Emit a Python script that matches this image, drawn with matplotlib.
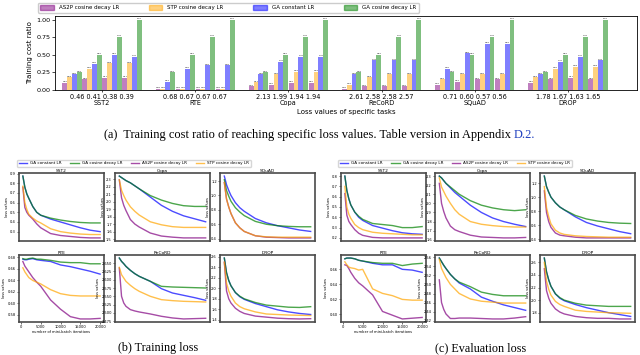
import matplotlib
matplotlib.use("Agg")
import matplotlib.pyplot as plt
from matplotlib.patches import Patch
from matplotlib.lines import Line2D
from matplotlib.ticker import MultipleLocator

# ---- (a) bar chart data ----
tasks = ["SST2", "RTE", "Copa", "ReCoRD", "SQuAD", "DROP"]
loss_levels = [
    ["0.46", "0.41", "0.38", "0.39"],
    ["0.68", "0.67", "0.67", "0.67"],
    ["2.13", "1.99", "1.94", "1.94"],
    ["2.61", "2.58", "2.58", "2.57"],
    ["0.71", "0.60", "0.57", "0.56"],
    ["1.78", "1.67", "1.63", "1.65"],
]
as2p_cost = [0.10, 0.15, 0.17, 0.17, 0.02, 0.02, 0.02, 0.02,
             0.05, 0.07, 0.10, 0.10, 0.02, 0.05, 0.05, 0.05,
             0.07, 0.12, 0.15, 0.15, 0.10, 0.15, 0.17, 0.15]
stp_cost = [0.18, 0.30, 0.38, 0.38, 0.02, 0.02, 0.02, 0.02,
            0.11, 0.22, 0.26, 0.26, 0.07, 0.18, 0.22, 0.22,
            0.15, 0.22, 0.22, 0.22, 0.18, 0.30, 0.33, 0.33]
ga_const_cost = [0.22, 0.37, 0.50, 0.47, 0.12, 0.30, 0.35, 0.35,
                 0.22, 0.40, 0.47, 0.47, 0.22, 0.42, 0.42, 0.42,
                 0.30, 0.52, 0.65, 0.65, 0.22, 0.40, 0.47, 0.42]
ga_cos_cost = [0.25, 0.50, 0.75, 1.00, 0.25, 0.50, 0.75, 1.00,
               0.25, 0.50, 0.75, 1.00, 0.25, 0.50, 0.75, 1.00,
               0.25, 0.50, 0.75, 1.00, 0.25, 0.50, 0.75, 1.00]

# ---- (b)/(c) loss curves ----
iters = [500, 1000, 1500, 2000, 3000, 4000, 5000, 7500, 10000, 12500, 15000, 17500, 20000]

# training loss
sst2_train_ga_const = [0.875, 0.76, 0.69, 0.645, 0.56, 0.50, 0.47, 0.43, 0.40, 0.37, 0.34, 0.315, 0.30]
sst2_train_ga_cos = [0.875, 0.76, 0.69, 0.645, 0.56, 0.50, 0.47, 0.44, 0.42, 0.405, 0.395, 0.39, 0.39]
sst2_train_as2p = [0.76, 0.55, 0.50, 0.47, 0.43, 0.38, 0.34, 0.28, 0.26, 0.25, 0.24, 0.235, 0.235]
sst2_train_stp = [0.77, 0.60, 0.53, 0.48, 0.44, 0.41, 0.39, 0.33, 0.30, 0.285, 0.275, 0.27, 0.27]

copa_train_ga_const = [2.34, 2.32, 2.30, 2.28, 2.25, 2.21, 2.17, 2.06, 1.95, 1.87, 1.81, 1.77, 1.73]
copa_train_ga_cos = [2.34, 2.32, 2.30, 2.28, 2.25, 2.21, 2.17, 2.08, 2.02, 1.975, 1.945, 1.935, 1.935]
copa_train_as2p = [2.29, 2.05, 1.95, 1.88, 1.76, 1.70, 1.66, 1.58, 1.54, 1.525, 1.515, 1.515, 1.515]
copa_train_stp = [2.29, 2.15, 2.08, 2.02, 1.93, 1.87, 1.82, 1.73, 1.69, 1.665, 1.655, 1.655, 1.655]

squad_train_ga_const = [1.27, 1.15, 1.07, 1.00, 0.90, 0.83, 0.78, 0.68, 0.62, 0.58, 0.55, 0.52, 0.50]
squad_train_ga_cos = [1.22, 1.07, 0.99, 0.92, 0.83, 0.77, 0.72, 0.64, 0.60, 0.58, 0.57, 0.565, 0.565]
squad_train_as2p = [1.18, 0.95, 0.84, 0.75, 0.62, 0.55, 0.50, 0.44, 0.42, 0.415, 0.41, 0.41, 0.41]
squad_train_stp = [1.18, 0.95, 0.84, 0.75, 0.62, 0.55, 0.50, 0.44, 0.425, 0.42, 0.42, 0.42, 0.42]

rte_train_ga_const = [0.677, 0.676, 0.676, 0.677, 0.678, 0.676, 0.675, 0.673, 0.667, 0.664, 0.660, 0.656, 0.651]
rte_train_ga_cos = [0.678, 0.677, 0.677, 0.678, 0.679, 0.677, 0.677, 0.675, 0.672, 0.671, 0.671, 0.669, 0.669]
rte_train_as2p = [0.673, 0.665, 0.660, 0.655, 0.645, 0.637, 0.630, 0.606, 0.590, 0.577, 0.573, 0.573, 0.574]
rte_train_stp = [0.662, 0.655, 0.650, 0.645, 0.640, 0.637, 0.634, 0.624, 0.617, 0.614, 0.613, 0.613, 0.613]

record_train_ga_const = [2.665, 2.655, 2.648, 2.640, 2.628, 2.618, 2.610, 2.595, 2.573, 2.560, 2.553, 2.546, 2.538]
record_train_ga_cos = [2.665, 2.655, 2.648, 2.640, 2.628, 2.618, 2.610, 2.595, 2.580, 2.578, 2.577, 2.576, 2.575]
record_train_as2p = [2.635, 2.550, 2.530, 2.520, 2.510, 2.506, 2.503, 2.497, 2.490, 2.485, 2.482, 2.483, 2.484]
record_train_stp = [2.637, 2.615, 2.605, 2.595, 2.583, 2.573, 2.565, 2.550, 2.540, 2.537, 2.535, 2.534, 2.533]

drop_train_ga_const = [2.58, 2.30, 2.15, 2.05, 1.92, 1.84, 1.79, 1.71, 1.65, 1.59, 1.55, 1.52, 1.50]
drop_train_ga_cos = [2.58, 2.30, 2.15, 2.05, 1.92, 1.85, 1.80, 1.73, 1.68, 1.66, 1.64, 1.635, 1.65]
drop_train_as2p = [2.50, 1.95, 1.80, 1.72, 1.62, 1.56, 1.52, 1.47, 1.45, 1.43, 1.42, 1.415, 1.42]
drop_train_stp = [2.50, 2.10, 1.95, 1.85, 1.72, 1.65, 1.61, 1.55, 1.51, 1.50, 1.49, 1.485, 1.48]

# evaluation loss
sst2_eval_ga_const = [0.80, 0.66, 0.58, 0.52, 0.45, 0.40, 0.37, 0.32, 0.295, 0.27, 0.25, 0.24, 0.235]
sst2_eval_ga_cos = [0.80, 0.66, 0.58, 0.52, 0.45, 0.41, 0.38, 0.34, 0.33, 0.32, 0.30, 0.30, 0.31]
sst2_eval_as2p = [0.63, 0.42, 0.36, 0.33, 0.28, 0.245, 0.225, 0.205, 0.20, 0.20, 0.20, 0.20, 0.20]
sst2_eval_stp = [0.70, 0.50, 0.43, 0.39, 0.33, 0.30, 0.28, 0.255, 0.245, 0.24, 0.235, 0.23, 0.23]

copa_eval_ga_const = [2.30, 2.28, 2.25, 2.22, 2.17, 2.12, 2.08, 1.98, 1.90, 1.84, 1.80, 1.77, 1.745]
copa_eval_ga_cos = [2.30, 2.28, 2.25, 2.22, 2.18, 2.14, 2.10, 2.03, 1.98, 1.95, 1.93, 1.92, 1.93]
copa_eval_as2p = [2.22, 2.00, 1.91, 1.84, 1.75, 1.71, 1.69, 1.65, 1.63, 1.625, 1.62, 1.62, 1.625]
copa_eval_stp = [2.28, 2.18, 2.13, 2.08, 2.00, 1.93, 1.88, 1.80, 1.77, 1.755, 1.745, 1.74, 1.74]

squad_eval_ga_const = [1.30, 1.15, 1.07, 1.00, 0.92, 0.86, 0.82, 0.72, 0.64, 0.59, 0.55, 0.51, 0.48]
squad_eval_ga_cos = [1.30, 1.15, 1.07, 1.00, 0.92, 0.86, 0.82, 0.74, 0.69, 0.66, 0.64, 0.63, 0.625]
squad_eval_as2p = [1.09, 0.78, 0.65, 0.57, 0.49, 0.46, 0.45, 0.43, 0.42, 0.42, 0.42, 0.42, 0.42]
squad_eval_stp = [1.15, 0.85, 0.72, 0.62, 0.53, 0.49, 0.47, 0.45, 0.44, 0.435, 0.43, 0.43, 0.43]

rte_eval_ga_const = [0.674, 0.675, 0.675, 0.675, 0.674, 0.672, 0.671, 0.668, 0.666, 0.666, 0.660, 0.659, 0.656]
rte_eval_ga_cos = [0.674, 0.675, 0.675, 0.675, 0.674, 0.672, 0.671, 0.669, 0.668, 0.668, 0.665, 0.667, 0.668]
rte_eval_as2p = [0.666, 0.665, 0.661, 0.656, 0.648, 0.642, 0.638, 0.626, 0.604, 0.599, 0.594, 0.595, 0.596]
rte_eval_stp = [0.670, 0.666, 0.663, 0.662, 0.661, 0.659, 0.660, 0.634, 0.628, 0.625, 0.620, 0.619, 0.619]

record_eval_ga_const = [2.558, 2.550, 2.542, 2.535, 2.522, 2.512, 2.503, 2.490, 2.472, 2.463, 2.455, 2.449, 2.443]
record_eval_ga_cos = [2.558, 2.550, 2.542, 2.535, 2.522, 2.512, 2.505, 2.495, 2.483, 2.478, 2.475, 2.475, 2.475]
record_eval_as2p = [2.510, 2.460, 2.445, 2.435, 2.425, 2.425, 2.426, 2.426, 2.425, 2.424, 2.424, 2.426, 2.429]
record_eval_stp = [2.555, 2.535, 2.525, 2.515, 2.500, 2.490, 2.480, 2.468, 2.463, 2.461, 2.459, 2.459, 2.459]

drop_eval_ga_const = [2.67, 2.45, 2.32, 2.22, 2.10, 2.03, 1.99, 1.93, 1.88, 1.84, 1.80, 1.77, 1.74]
drop_eval_ga_cos = [2.67, 2.45, 2.32, 2.22, 2.10, 2.04, 2.00, 1.95, 1.92, 1.91, 1.90, 1.90, 1.90]
drop_eval_as2p = [2.50, 2.15, 2.03, 1.95, 1.86, 1.81, 1.78, 1.74, 1.72, 1.71, 1.71, 1.70, 1.70]
drop_eval_stp = [2.60, 2.30, 2.17, 2.08, 1.98, 1.93, 1.90, 1.84, 1.82, 1.81, 1.80, 1.795, 1.79]

W, H = 640, 355
fig = plt.figure(figsize=(W / 100, H / 100), dpi=100)


def px_axes(left, top, right, bottom):
    return fig.add_axes([left / W, 1 - bottom / H, (right - left) / W, (bottom - top) / H])


# ---------------- (a) bar chart ----------------
bar_methods = [
    ("AS2P cosine decay LR", as2p_cost, "purple"),
    ("STP cosine decay LR", stp_cost, "orange"),
    ("GA constant LR", ga_const_cost, "blue"),
    ("GA cosine decay LR", ga_cos_cost, "green"),
]
group_gap = 4.66
bw = 0.24
ax = px_axes(55, 16, 637, 90)
positions = []
for i in range(len(tasks)):
    for j in range(4):
        positions.append(i * group_gap + (j - 1.5))
for k, (name, vals, col) in enumerate(bar_methods):
    xs = [p + (k - 1.5) * bw for p in positions]
    bars = ax.bar(xs, vals, width=bw, color=col, alpha=0.5, label=name)
    ax.bar_label(bars, fmt="%.2f", fontsize=1.6, padding=0.5)
ax.set_xlim(-2.35, (len(tasks) - 1) * group_gap + 3.45)
ax.set_ylim(0, 1.05)
ax.set_yticks([0, 0.25, 0.5, 0.75, 1.0])
ax.set_xticks([i * group_gap for i in range(len(tasks))])
ax.set_xticklabels([" ".join(lv) + "\n" + t for lv, t in zip(loss_levels, tasks)],
                   fontsize=4.7, linespacing=1.0)
ax.tick_params(axis="y", labelsize=4.6, length=2, width=0.5, pad=1.5)
ax.tick_params(axis="x", length=1.5, width=0.5, pad=1.5)
ax.set_ylabel("Training cost ratio", fontsize=5, labelpad=2)
ax.set_xlabel("Loss values of specific tasks", fontsize=5, labelpad=2)
for s in ax.spines.values():
    s.set_linewidth(0.6)
handles = [Patch(color=c, alpha=0.5) for _, _, c in bar_methods]
fig.legend(handles, [n for n, _, _ in bar_methods], loc="lower left",
           bbox_to_anchor=(38 / W, 1 - 12.5 / H), ncol=4, fontsize=4,
           borderaxespad=0, frameon=True, framealpha=1, edgecolor="#cccccc",
           handlelength=2.4, handleheight=0.9, handletextpad=0.9,
           columnspacing=5.4, fancybox=True)

# ---------------- (b)/(c) loss curves ----------------
train_curves = {
    "SST2": (sst2_train_ga_const, sst2_train_ga_cos, sst2_train_as2p, sst2_train_stp),
    "Copa": (copa_train_ga_const, copa_train_ga_cos, copa_train_as2p, copa_train_stp),
    "SQuAD": (squad_train_ga_const, squad_train_ga_cos, squad_train_as2p, squad_train_stp),
    "RTE": (rte_train_ga_const, rte_train_ga_cos, rte_train_as2p, rte_train_stp),
    "ReCoRD": (record_train_ga_const, record_train_ga_cos, record_train_as2p, record_train_stp),
    "DROP": (drop_train_ga_const, drop_train_ga_cos, drop_train_as2p, drop_train_stp),
}
eval_curves = {
    "SST2": (sst2_eval_ga_const, sst2_eval_ga_cos, sst2_eval_as2p, sst2_eval_stp),
    "Copa": (copa_eval_ga_const, copa_eval_ga_cos, copa_eval_as2p, copa_eval_stp),
    "SQuAD": (squad_eval_ga_const, squad_eval_ga_cos, squad_eval_as2p, squad_eval_stp),
    "RTE": (rte_eval_ga_const, rte_eval_ga_cos, rte_eval_as2p, rte_eval_stp),
    "ReCoRD": (record_eval_ga_const, record_eval_ga_cos, record_eval_as2p, record_eval_stp),
    "DROP": (drop_eval_ga_const, drop_eval_ga_cos, drop_eval_as2p, drop_eval_stp),
}
train_steps = {"SST2": 0.1, "Copa": 0.1, "SQuAD": 0.2, "RTE": 0.02, "ReCoRD": 0.025, "DROP": 0.2}
eval_steps = {"SST2": 0.1, "Copa": 0.1, "SQuAD": 0.2, "RTE": 0.02, "ReCoRD": 0.02, "DROP": 0.2}

line_names = ["GA constant LR", "GA cosine decay LR", "AS2P cosine decay LR", "STP cosine decay LR"]
line_colors = ["blue", "green", "purple", "orange"]
grid_order = ["SST2", "Copa", "SQuAD", "RTE", "ReCoRD", "DROP"]
rows_px = [(173, 241), (255, 322)]


def draw_grid(curves, steps, cols_px, legend_x):
    for idx, task in enumerate(grid_order):
        r, c = divmod(idx, 3)
        a = px_axes(cols_px[c][0], rows_px[r][0], cols_px[c][1], rows_px[r][1])
        for ys, col in zip(curves[task], line_colors):
            a.plot(iters, ys, color=col, alpha=0.7, lw=1.0)
        a.set_title(task, fontsize=3.2, pad=1)
        a.yaxis.set_major_locator(MultipleLocator(steps[task]))
        a.tick_params(axis="y", labelsize=2.6, length=1.5, width=0.4, pad=0.8)
        a.set_ylabel("loss values", fontsize=2.6, labelpad=1.0)
        if task == "RTE":
            a.set_xticks([0, 5000, 10000, 15000, 20000])
            a.tick_params(axis="x", labelsize=2.6, length=1.5, width=0.4, pad=1)
            a.set_xlabel("number of mini-batch iterations", fontsize=2.6, labelpad=0.5)
        else:
            a.set_xticks([])
        for s in a.spines.values():
            s.set_linewidth(1.2)
            s.set_color("#4a4a4a")
    hl = [Line2D([0], [0], color=c, alpha=0.7, lw=1.0) for c in line_colors]
    fig.legend(hl, line_names, loc="lower left", bbox_to_anchor=(legend_x / W, 1 - 167 / H),
               ncol=4, fontsize=3, borderaxespad=0, frameon=True, edgecolor="#cccccc",
               columnspacing=2.0, handlelength=2.0)


draw_grid(train_curves, train_steps, [(19, 104), (115, 210), (220, 315)], 17)
draw_grid(eval_curves, eval_steps, [(341, 426), (435, 530), (540, 635)], 338)

# ---------------- captions ----------------
serif = "Liberation Serif"
fig.text(511 / W, 1 - 135 / H,
         "(a)  Training cost ratio of reaching specific loss values. Table version in Appendix",
         ha="right", va="center", fontsize=8.9, family=serif)
fig.text(514 / W, 1 - 135 / H, "D.2.", ha="left", va="center", fontsize=8.9,
         family=serif, color="#1f3fbf")
fig.text(158 / W, 1 - 348 / H, "(b) Training loss", ha="center", va="center",
         fontsize=8.7, family=serif)
fig.text(481 / W, 1 - 348 / H, "(c) Evaluation loss", ha="center", va="center",
         fontsize=8.7, family=serif)

fig.savefig("out.png", dpi=100)
